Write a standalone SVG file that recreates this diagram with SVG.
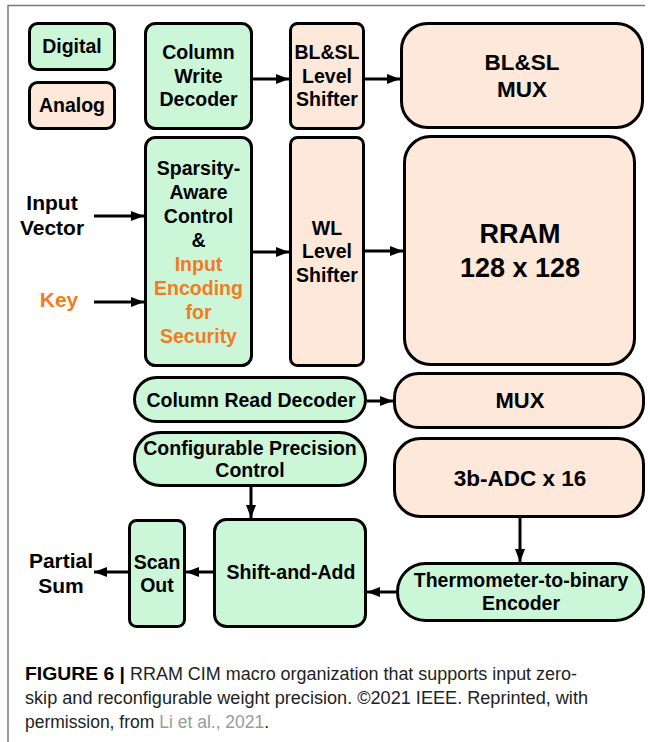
<svg xmlns="http://www.w3.org/2000/svg" width="650" height="742" viewBox="0 0 650 742">
<defs>
<style>
.g{fill:#CBF7D8;stroke:#000;stroke-width:3}
.a{fill:#FDE8DA;stroke:#000;stroke-width:3}
.t{font-family:"Liberation Sans",Arial,sans-serif;font-weight:bold;font-size:19.5px;text-anchor:middle;fill:#000}
.o{fill:#F47B20}
.w{stroke:#000;stroke-width:3;fill:none;marker-end:url(#ah)}
.cap{font-family:"Liberation Sans",Arial,sans-serif;font-size:17.5px;fill:#222}
</style>
<marker id="ah" markerUnits="userSpaceOnUse" markerWidth="14" markerHeight="11" refX="13" refY="5" orient="auto">
<path d="M0,0 L13,5 L0,10 z" fill="#000"/>
</marker>
</defs>
<rect width="650" height="742" fill="#fff"/>
<path d="M8,742 V5.5 H645" fill="none" stroke="#7a7a7a" stroke-width="1.5"/>

<g id="digital"><rect class="g" x="29.5" y="23.5" width="85" height="46" rx="8"/><text class="t" x="72" y="53">Digital</text></g>
<g id="analog"><rect class="a" x="29.5" y="82.5" width="85" height="46" rx="8"/><text class="t" x="72" y="112">Analog</text></g>
<g id="cwd"><rect class="g" x="145.5" y="23.5" width="106" height="105" rx="10"/><text class="t" x="198.5" y="59">Column</text><text class="t" x="198.5" y="83">Write</text><text class="t" x="198.5" y="106">Decoder</text></g>
<g id="blsl-ls"><rect class="a" x="290.5" y="23.5" width="73" height="105" rx="7"/><text class="t" x="327" y="59">BL&amp;SL</text><text class="t" x="327" y="83">Level</text><text class="t" x="327" y="106">Shifter</text></g>
<g id="blsl-mux"><rect class="a" x="401.5" y="23.5" width="241" height="104" rx="26"/><text class="t" x="522" y="70" style="font-size:22.5px">BL&amp;SL</text><text class="t" x="522" y="97" style="font-size:22.5px">MUX</text></g>
<g id="sparsity"><rect class="g" x="145.5" y="137.5" width="106" height="228" rx="10"/>
<text class="t" x="198.5" y="175">Sparsity-</text><text class="t" x="198.5" y="199">Aware</text><text class="t" x="198.5" y="223">Control</text><text class="t" x="198.5" y="247">&amp;</text>
<text class="t o" x="198.5" y="271">Input</text><text class="t o" x="198.5" y="295">Encoding</text><text class="t o" x="198.5" y="319">for</text><text class="t o" x="198.5" y="343">Security</text></g>
<g id="wl-ls"><rect class="a" x="290.5" y="137.5" width="73" height="228" rx="7"/><text class="t" x="327" y="235">WL</text><text class="t" x="327" y="258">Level</text><text class="t" x="327" y="282">Shifter</text></g>
<g id="rram"><rect class="a" x="404.5" y="136.5" width="230" height="228" rx="26"/><text class="t" x="520" y="243" style="font-size:27px">RRAM</text><text class="t" x="520" y="277" style="font-size:27px">128 x 128</text></g>
<g id="crd"><rect class="g" x="134.5" y="377.5" width="231" height="44" rx="22"/><text class="t" x="251" y="407">Column Read Decoder</text></g>
<g id="mux"><rect class="a" x="394.5" y="373.5" width="249" height="54" rx="24"/><text class="t" x="520" y="408" style="font-size:22px">MUX</text></g>
<g id="cpc"><rect class="g" x="134.5" y="432.5" width="231" height="53" rx="26"/><text class="t" x="250" y="455">Configurable Precision</text><text class="t" x="250" y="477">Control</text></g>
<g id="adc"><rect class="a" x="394.5" y="438.5" width="249" height="78" rx="26"/><text class="t" x="520" y="486" style="font-size:22.5px">3b-ADC x 16</text></g>
<g id="saa"><rect class="g" x="214.5" y="519.5" width="151" height="107" rx="12"/><text class="t" x="291" y="579">Shift-and-Add</text></g>
<g id="scan"><rect class="g" x="129.5" y="520.5" width="55" height="106" rx="7"/><text class="t" x="157" y="569">Scan</text><text class="t" x="157" y="592">Out</text></g>
<g id="thermo"><rect class="g" x="397.5" y="563.5" width="246" height="57" rx="28"/><text class="t" x="521" y="587">Thermometer-to-binary</text><text class="t" x="521" y="610">Encoder</text></g>

<g id="labels">
<text class="t" x="52" y="210" style="font-size:21px">Input</text><text class="t" x="52" y="235" style="font-size:21px">Vector</text>
<text class="t o" x="59" y="307" style="font-size:21px">Key</text>
<text class="t" x="61" y="568" style="font-size:21px">Partial</text><text class="t" x="61" y="593" style="font-size:21px">Sum</text>
</g>

<g id="connectors">
<line class="w" x1="253" y1="79" x2="289" y2="79"/>
<line class="w" x1="365" y1="79" x2="400" y2="79"/>
<line class="w" x1="94" y1="216" x2="144" y2="216"/>
<line class="w" x1="94" y1="302" x2="144" y2="302"/>
<line class="w" x1="253" y1="252" x2="289" y2="252"/>
<line class="w" x1="365" y1="251" x2="403" y2="251"/>
<line class="w" x1="367" y1="401" x2="393" y2="401"/>
<line class="w" x1="251" y1="487" x2="251" y2="518"/>
<line class="w" x1="520" y1="518" x2="520" y2="562"/>
<line class="w" x1="396" y1="592" x2="367" y2="592"/>
<line class="w" x1="213" y1="572" x2="186" y2="572"/>
<line class="w" x1="128" y1="572" x2="94" y2="572"/>
</g>

<g id="caption">
<text class="cap" x="25" y="680" style="font-weight:bold;fill:#000" textLength="100" lengthAdjust="spacingAndGlyphs">FIGURE 6 |</text>
<text class="cap" x="130" y="680" textLength="447" lengthAdjust="spacingAndGlyphs">RRAM CIM macro organization that supports input zero-</text>
<text class="cap" x="25" y="704" textLength="563" lengthAdjust="spacingAndGlyphs">skip and reconfigurable weight precision. ©2021 IEEE. Reprinted, with</text>
<text class="cap" x="25" y="728">permission, from <tspan fill="#9a9a9a">Li et al., 2021</tspan>.</text>
</g>
</svg>
